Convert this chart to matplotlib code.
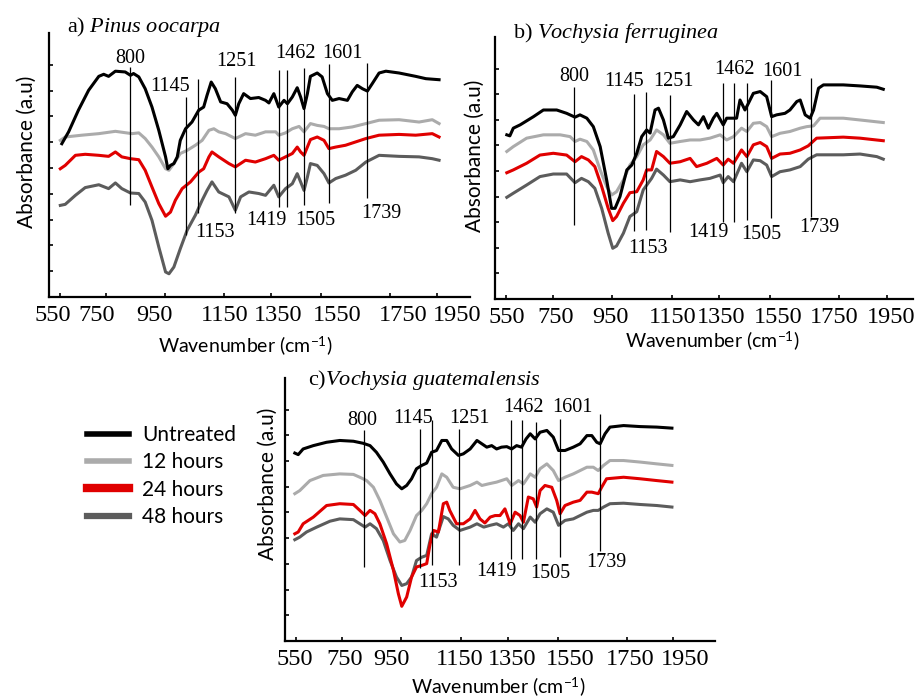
import numpy as np
import matplotlib
matplotlib.use("Agg")
import matplotlib.pyplot as plt
from matplotlib.lines import Line2D

# x is the position along the wavenumber axis: 0 at the "550" tick, 100 at the "1950" tick
# y is absorbance in arbitrary units (one unit per y tick)
tick_pos = [0, 12.3, 27.9, 43.7, 56.1, 69.4, 87.6, 100]
tick_labels = ["550", "750", "950", "1150", "1350", "1550", "1750", "1950"]
label_pos_a = [-1.9, 9.8, 25.2, 43.8, 57.9, 73.5, 91.1, 105.4]
label_pos_b = [0.3, 13.0, 27.4, 43.8, 56.5, 71.4, 86.3, 101.2]
label_pos_c = [-0.2, 13.1, 25.4, 43.5, 57.2, 72.6, 88.5, 103.1]

series = ["Untreated", "12 hours", "24 hours", "48 hours"]
bands = ["800", "1145", "1153", "1251", "1419", "1462", "1505", "1601", "1739"]

# a) Pinus oocarpa
a_untreated = [(0.6, 5.94), (2.4, 6.40), (5.0, 7.24), (7.7, 8.01), (10.4, 8.55), (11.7, 8.63), (13.0, 8.55),
               (14.8, 8.75), (17.4, 8.72), (18.8, 8.59), (19.6, 8.66), (21.0, 8.53), (22.7, 8.07), (24.5, 7.36),
               (26.3, 6.46), (28.1, 5.43), (28.7, 4.97), (29.4, 5.10), (30.3, 5.17), (31.2, 5.43), (32.0, 6.07),
               (33.4, 6.52), (35.1, 6.78), (36.9, 7.24), (38.2, 7.36), (39.1, 7.82), (40.2, 8.33), (41.3, 8.07),
               (42.7, 7.56), (44.4, 7.49), (45.8, 7.24), (46.6, 7.04), (47.5, 7.49), (48.8, 7.88), (50.6, 7.69),
               (52.8, 7.73), (54.6, 7.62), (55.5, 7.52), (56.8, 7.88), (58.1, 7.36), (59.5, 7.62), (60.4, 7.49),
               (61.7, 7.75), (63.0, 8.11), (63.9, 7.75), (64.8, 7.30), (65.7, 7.88), (66.5, 8.55), (68.3, 8.68),
               (69.6, 8.53), (71.0, 7.88), (72.3, 7.62), (74.1, 7.69), (76.3, 7.62), (77.6, 7.95), (78.9, 8.20),
               (80.3, 8.07), (81.6, 7.98), (82.9, 8.27), (84.7, 8.68), (86.5, 8.75), (90.0, 8.68), (94.4, 8.55),
               (97.1, 8.46), (100.6, 8.42)]
a_12h = [(0.2, 6.07), (1.5, 6.20), (5.9, 6.27), (10.4, 6.33), (14.8, 6.42), (19.2, 6.33), (21.0, 6.36),
         (22.7, 6.14), (24.5, 5.81), (26.3, 5.43), (28.1, 4.97), (29.0, 4.91), (30.3, 5.17), (32.0, 5.56),
         (33.8, 5.68), (36.0, 5.88), (37.8, 6.07), (39.6, 6.46), (40.9, 6.52), (42.2, 6.40), (44.0, 6.33),
         (46.6, 6.14), (49.3, 6.33), (51.9, 6.27), (54.6, 6.40), (57.3, 6.40), (58.1, 6.27), (59.9, 6.36),
         (61.7, 6.52), (63.5, 6.61), (64.8, 6.40), (66.5, 6.72), (68.3, 6.65), (70.1, 6.61), (71.4, 6.52),
         (74.1, 6.52), (77.6, 6.59), (81.2, 6.72), (84.7, 6.85), (90.0, 6.87), (95.3, 6.78), (98.8, 6.87),
         (100.6, 6.72)]
a_24h = [(0.2, 4.97), (1.5, 5.10), (4.2, 5.49), (6.8, 5.53), (10.4, 5.49), (13.0, 5.45), (14.8, 5.62),
         (16.5, 5.43), (18.8, 5.36), (21.0, 5.32), (22.7, 4.91), (24.5, 4.26), (26.3, 3.62), (28.1, 3.13),
         (29.4, 3.29), (30.7, 3.75), (32.5, 4.20), (34.7, 4.46), (36.9, 4.84), (38.2, 4.97), (39.6, 5.43),
         (40.4, 5.62), (42.2, 5.43), (44.9, 5.17), (46.6, 5.04), (49.3, 5.30), (51.9, 5.23), (54.6, 5.36),
         (56.8, 5.49), (58.1, 5.30), (59.9, 5.43), (61.7, 5.56), (63.0, 5.81), (63.9, 5.62), (64.8, 5.49),
         (66.5, 6.10), (68.3, 6.20), (70.1, 6.07), (71.4, 5.75), (73.2, 5.81), (75.8, 5.88), (78.5, 6.01),
         (81.2, 6.14), (84.7, 6.27), (90.0, 6.30), (94.4, 6.27), (98.8, 6.33), (100.6, 6.20)]
a_48h = [(0.2, 3.55), (1.5, 3.59), (4.2, 3.94), (6.8, 4.24), (10.4, 4.35), (13.0, 4.20), (14.8, 4.42),
         (16.5, 4.20), (18.8, 4.03), (21.0, 4.01), (22.7, 3.68), (24.5, 2.97), (26.3, 1.94), (28.1, 0.97),
         (29.0, 0.90), (30.3, 1.16), (32.0, 1.87), (33.8, 2.58), (36.0, 3.17), (37.8, 3.75), (39.1, 4.13),
         (40.4, 4.46), (42.2, 4.07), (44.9, 3.88), (46.6, 3.36), (48.0, 3.88), (50.2, 4.07), (52.8, 4.01),
         (54.6, 3.94), (56.8, 4.33), (58.1, 3.88), (59.9, 4.20), (61.7, 4.39), (63.0, 4.78), (63.9, 4.46),
         (64.8, 4.13), (65.7, 4.65), (66.5, 5.17), (68.3, 5.10), (70.1, 4.78), (71.4, 4.42), (73.2, 4.59),
         (75.8, 4.72), (78.5, 4.91), (81.2, 5.23), (84.7, 5.49), (90.0, 5.45), (95.3, 5.43), (98.8, 5.36),
         (100.6, 5.30)]
a_band_x = [18.8, 33.5, 36.7, 46.5, 58.1, 60.4, 64.8, 71.4, 81.6]
a_band_top = [8.93, 7.76, 8.44, 8.54, 8.80, 8.80, 8.86, 9.02, 9.07]
a_band_bottom = [3.57, 2.40, 3.26, 3.26, 3.50, 3.50, 3.57, 3.64, 3.84]
a_band_text = [(18.8, 9.26), (29.4, 8.15), (41.3, 2.51), (46.8, 9.12), (54.8, 2.98),
               (62.6, 9.45), (67.9, 2.98), (75.1, 9.45), (85.4, 3.24)]

# b) Vochysia ferruginea
b_untreated = [(0.3, 6.41), (1.1, 6.37), (2.0, 6.67), (3.8, 6.80), (7.3, 7.12), (9.9, 7.38), (13.4, 7.38),
               (16.0, 7.25), (18.2, 7.10), (19.5, 7.19), (21.3, 7.06), (23.0, 6.73), (24.8, 5.95), (26.5, 4.65),
               (27.8, 3.54), (28.7, 3.54), (30.0, 4.00), (31.8, 5.04), (33.1, 5.23), (34.4, 5.69), (35.7, 6.34),
               (37.0, 6.60), (37.9, 6.48), (39.2, 7.38), (40.1, 7.45), (41.4, 6.99), (42.7, 6.28), (44.0, 6.34),
               (45.8, 6.80), (47.5, 7.32), (49.3, 6.99), (50.6, 6.80), (51.9, 7.12), (53.2, 6.67), (54.5, 7.06),
               (55.4, 7.25), (57.1, 6.80), (58.0, 7.06), (59.3, 7.06), (60.6, 7.06), (61.5, 7.77), (62.8, 7.38),
               (63.7, 7.64), (65.0, 8.03), (66.8, 8.10), (68.5, 7.90), (69.8, 7.12), (71.1, 7.19), (73.3, 7.25),
               (74.6, 7.38), (76.4, 7.71), (77.3, 7.77), (78.6, 7.19), (79.9, 7.06), (80.8, 7.38), (82.1, 8.23),
               (83.4, 8.36), (88.6, 8.36), (93.0, 8.32), (97.4, 8.27), (99.1, 8.19)]
b_12h = [(0.3, 5.76), (2.0, 5.95), (5.5, 6.28), (9.9, 6.41), (14.3, 6.41), (16.9, 6.34), (18.2, 6.15),
         (19.5, 6.24), (21.3, 6.15), (23.0, 5.82), (24.8, 5.04), (26.5, 4.39), (27.8, 4.06), (29.1, 4.19),
         (30.9, 4.65), (32.6, 5.23), (34.4, 5.56), (36.1, 6.02), (37.9, 6.21), (39.6, 6.60), (41.4, 6.41),
         (43.1, 6.08), (45.8, 6.15), (48.4, 6.21), (51.0, 6.21), (53.6, 6.28), (56.3, 6.41), (58.0, 6.21),
         (59.8, 6.34), (61.9, 6.67), (63.3, 6.54), (65.0, 6.86), (66.8, 6.89), (68.5, 6.73), (69.8, 6.34),
         (72.0, 6.47), (74.6, 6.54), (77.3, 6.67), (79.0, 6.73), (80.8, 6.76), (82.5, 7.06), (88.6, 7.06),
         (93.0, 6.99), (99.1, 6.89)]
b_24h = [(0.3, 4.93), (2.0, 5.04), (5.5, 5.30), (9.0, 5.62), (12.5, 5.69), (16.0, 5.62), (18.2, 5.36),
         (19.9, 5.56), (21.7, 5.43), (23.4, 5.17), (25.2, 4.39), (26.9, 3.54), (28.1, 3.06), (29.1, 3.22),
         (30.9, 3.74), (32.6, 4.15), (34.4, 4.19), (36.1, 4.65), (37.0, 5.04), (38.3, 5.04), (39.6, 5.76),
         (41.4, 5.56), (43.1, 5.30), (45.8, 5.36), (48.4, 5.49), (50.1, 5.17), (52.8, 5.30), (55.4, 5.49),
         (57.1, 5.23), (58.4, 5.46), (59.8, 5.30), (61.9, 5.82), (63.3, 5.56), (65.0, 6.02), (66.8, 6.11),
         (68.5, 5.95), (69.8, 5.49), (72.0, 5.66), (74.6, 5.69), (77.3, 5.82), (79.4, 5.98), (81.6, 6.28),
         (88.6, 6.32), (93.0, 6.28), (99.1, 6.18)]
b_48h = [(0.3, 3.97), (2.0, 4.13), (5.5, 4.45), (9.0, 4.78), (12.5, 4.88), (16.0, 4.88), (18.2, 4.54),
         (19.9, 4.71), (21.7, 4.58), (23.4, 4.32), (25.2, 3.54), (26.9, 2.57), (28.1, 1.98), (29.1, 2.07),
         (30.9, 2.57), (32.6, 3.22), (34.4, 3.41), (36.1, 4.26), (38.3, 4.71), (39.6, 5.07), (41.4, 4.84),
         (43.1, 4.58), (45.8, 4.65), (48.4, 4.58), (51.0, 4.65), (53.6, 4.71), (56.3, 4.84), (57.1, 4.54),
         (58.4, 4.78), (59.8, 4.58), (61.9, 5.30), (63.3, 4.97), (65.0, 5.43), (66.8, 5.40), (68.5, 5.23),
         (69.8, 4.78), (72.0, 4.97), (74.6, 5.04), (77.3, 5.17), (79.4, 5.46), (81.6, 5.63), (88.6, 5.63),
         (93.0, 5.66), (97.4, 5.56), (99.1, 5.46)]
b_band_x = [18.0, 33.8, 36.7, 43.1, 57.0, 59.8, 63.4, 69.6, 80.1]
b_band_top = [8.27, 8.01, 8.10, 7.97, 8.42, 8.42, 8.42, 8.55, 8.62]
b_band_bottom = [2.89, 2.67, 2.70, 2.63, 3.02, 3.02, 3.09, 3.15, 3.22]
b_band_text = [(18.0, 8.68), (31.1, 8.49), (37.3, 1.98), (44.0, 8.49), (53.2, 2.59),
               (60.0, 8.95), (67.0, 2.50), (72.7, 8.88), (82.3, 2.79)]

# c) Vochysia guatemalensis
c_untreated = [(-0.2, 7.31), (0.7, 7.25), (2.0, 7.47), (4.7, 7.60), (8.2, 7.73), (11.7, 7.80), (15.3, 7.77),
               (17.9, 7.69), (19.7, 7.60), (21.4, 7.34), (23.2, 6.96), (25.0, 6.50), (26.7, 6.11), (28.1, 5.92),
               (29.4, 6.05), (30.7, 6.31), (32.0, 6.70), (33.4, 6.83), (34.7, 6.92), (36.0, 7.34), (37.3, 7.41),
               (38.7, 7.80), (40.0, 7.80), (41.3, 7.47), (43.1, 7.22), (44.4, 7.28), (46.2, 7.47), (48.0, 7.80),
               (49.3, 7.67), (50.6, 7.54), (51.9, 7.60), (53.2, 7.47), (54.5, 7.54), (55.9, 7.56), (57.2, 7.47),
               (58.5, 7.60), (59.8, 7.54), (61.0, 7.86), (62.1, 8.06), (63.4, 7.86), (64.7, 8.12), (66.5, 8.19),
               (68.2, 7.93), (69.6, 7.41), (71.3, 7.41), (73.5, 7.54), (75.3, 7.67), (77.1, 7.99), (78.4, 7.99),
               (79.7, 7.73), (80.6, 7.67), (81.9, 8.06), (83.2, 8.32), (86.8, 8.38), (91.2, 8.34), (95.6, 8.32),
               (99.6, 8.28)]
c_12h = [(-0.2, 5.73), (1.1, 5.85), (3.8, 6.24), (7.3, 6.44), (11.7, 6.50), (15.3, 6.48), (17.0, 6.37),
         (18.8, 6.24), (20.6, 5.98), (22.3, 5.47), (24.1, 4.82), (25.9, 4.17), (27.6, 3.85), (28.9, 3.91),
         (30.3, 4.30), (32.0, 4.88), (33.4, 5.08), (34.7, 5.34), (36.0, 5.73), (37.3, 5.98), (38.7, 6.50),
         (40.0, 6.37), (41.7, 5.98), (43.5, 5.92), (46.2, 6.05), (48.0, 6.18), (49.3, 6.05), (51.0, 6.11),
         (53.2, 6.18), (55.9, 6.31), (57.2, 6.05), (59.0, 6.24), (60.3, 6.11), (62.1, 6.50), (63.4, 6.37),
         (64.7, 6.70), (66.5, 6.89), (68.2, 6.63), (69.6, 6.24), (71.3, 6.37), (73.5, 6.50), (75.3, 6.63),
         (77.1, 6.76), (78.8, 6.76), (80.1, 6.63), (81.5, 6.83), (83.2, 7.02), (86.8, 7.02), (91.2, 6.96),
         (95.6, 6.89), (99.6, 6.83)]
c_24h = [(-0.2, 4.17), (0.7, 4.24), (2.0, 4.56), (4.7, 4.82), (8.2, 5.27), (11.7, 5.34), (15.3, 5.31),
         (17.0, 5.08), (18.4, 4.88), (19.7, 5.08), (21.0, 4.95), (22.3, 4.56), (24.1, 3.78), (25.9, 2.75),
         (27.2, 1.84), (28.1, 1.35), (29.4, 1.71), (30.7, 2.49), (32.0, 2.88), (33.4, 2.94), (34.7, 3.01),
         (35.6, 3.78), (36.5, 4.30), (37.8, 4.24), (39.1, 5.34), (40.0, 5.40), (40.8, 5.08), (42.6, 4.56),
         (44.4, 4.56), (46.2, 4.75), (47.5, 5.08), (48.8, 4.75), (50.1, 4.59), (51.5, 4.82), (52.8, 4.88),
         (54.1, 4.88), (55.4, 5.14), (56.8, 4.56), (58.1, 5.01), (59.4, 4.88), (60.3, 4.62), (61.6, 5.60),
         (62.9, 5.53), (63.8, 5.21), (64.7, 5.85), (66.0, 6.05), (67.8, 5.98), (69.1, 5.47), (70.0, 4.95),
         (71.3, 5.27), (73.5, 5.40), (75.3, 5.47), (77.1, 5.79), (78.4, 5.79), (80.1, 5.73), (81.0, 5.98),
         (82.3, 6.31), (86.8, 6.37), (91.2, 6.31), (95.6, 6.24), (99.6, 6.18)]
c_48h = [(-0.2, 3.94), (1.1, 4.04), (2.9, 4.24), (5.6, 4.43), (9.1, 4.66), (11.7, 4.75), (15.3, 4.72),
         (17.0, 4.56), (18.4, 4.43), (19.7, 4.56), (21.4, 4.37), (23.2, 3.91), (25.0, 3.13), (26.7, 2.49),
         (28.1, 2.16), (29.4, 2.23), (30.7, 2.49), (32.0, 3.13), (33.4, 3.26), (34.7, 3.33), (36.0, 4.17),
         (37.3, 4.04), (39.1, 4.84), (40.4, 4.75), (41.7, 4.50), (43.5, 4.30), (46.2, 4.43), (48.0, 4.56),
         (49.8, 4.43), (51.5, 4.50), (53.2, 4.56), (55.0, 4.43), (56.3, 4.56), (57.6, 4.30), (59.0, 4.56),
         (60.3, 4.37), (62.1, 4.82), (63.4, 4.62), (64.7, 4.95), (66.5, 5.14), (68.2, 5.01), (69.6, 4.50),
         (71.3, 4.69), (73.5, 4.75), (75.3, 4.88), (77.1, 5.01), (78.8, 5.08), (80.1, 5.08), (81.5, 5.21),
         (83.2, 5.34), (86.8, 5.36), (91.2, 5.31), (95.6, 5.27), (99.6, 5.21)]
c_band_x = [18.1, 32.9, 36.2, 43.2, 56.9, 60.0, 63.5, 70.0, 80.6]
c_band_top = [8.19, 8.25, 8.60, 8.25, 8.58, 8.58, 8.51, 8.64, 8.83]
c_band_bottom = [2.88, 2.85, 2.94, 2.94, 3.20, 3.20, 3.20, 3.26, 3.50]
c_band_text = [(17.7, 8.58), (31.2, 8.64), (37.8, 2.29), (46.0, 8.64), (53.2, 2.72),
               (60.3, 9.07), (67.3, 2.64), (73.3, 9.07), (82.2, 3.07)]

colors = ["#000000", "#ababab", "#e00000", "#5c5c5c"]
SERIF = "Liberation Serif"
SANS = "Lato"
W, H = 915, 698

plt.rcParams["mathtext.fontset"] = "custom"
plt.rcParams["mathtext.rm"] = SANS
plt.rcParams["mathtext.it"] = SERIF + ":italic"

fig = plt.figure(figsize=(W / 100, H / 100), dpi=100)


def add_panel(box, xmax, curves, band_x, band_top, band_bottom, band_text, label_pos):
    l, t, r, b = box
    ax = fig.add_axes([l / W, 1 - b / H, (r - l) / W, (b - t) / H])
    # draw 48h and 12h first, untreated on top
    for i in [3, 1, 2, 0]:
        xy = np.array(curves[i])
        ax.plot(xy[:, 0], xy[:, 1], color=colors[i], lw=2.2, solid_joinstyle="round")
    ax.vlines(band_x, band_bottom, band_top, color="black", lw=0.9)
    for name, (x, y) in zip(bands, band_text):
        ax.text(x, y, name, ha="center", va="center", fontsize=14.5, family=SERIF)
    ax.set_xlim(-2.8, xmax)
    ax.set_ylim(0, 10.23)
    ax.set_xticks(tick_pos)
    ax.set_xticklabels([])
    ax.set_xticks(label_pos, tick_labels, minor=True)
    ax.set_yticks(range(1, 10))
    ax.set_yticklabels([])
    ax.tick_params(which="major", direction="in", length=3, width=1.2, color="black")
    ax.tick_params(axis="x", which="minor", length=0, pad=6, labelsize=17.5)
    for lab in ax.get_xticklabels(minor=True):
        lab.set_family(SERIF)
    for side in ["top", "right"]:
        ax.spines[side].set_visible(False)
    for side in ["left", "bottom"]:
        ax.spines[side].set_linewidth(1.6)
    return ax


add_panel((49, 33, 470, 297), 108.8, [a_untreated, a_12h, a_24h, a_48h],
          a_band_x, a_band_top, a_band_bottom, a_band_text, label_pos_a)
add_panel((495, 37, 913, 299), 106.9, [b_untreated, b_12h, b_24h, b_48h],
          b_band_x, b_band_top, b_band_bottom, b_band_text, label_pos_b)
add_panel((285, 378, 715, 641), 111.0, [c_untreated, c_12h, c_24h, c_48h],
          c_band_x, c_band_top, c_band_bottom, c_band_text, label_pos_c)

# panel titles: letter upright, species in italics
titles = [((67, 27), r"a) $\mathit{Pinus\ oocarpa}$"),
          ((513, 33), r"b) $\mathit{Vochysia\ ferruginea}$"),
          ((308, 380), r"c)$\mathit{Vochysia\ guatemalensis}$")]
for (x, y), title in titles:
    fig.text(x / W, 1 - y / H, title, ha="left", va="center", fontsize=16, family=SERIF)

# axis titles
for x, y in [(27, 152), (475, 156), (268, 484)]:
    fig.text(x / W, 1 - y / H, "Absorbance (a.u)", rotation=90, ha="center", va="center",
             fontsize=15, family=SANS)
for x, y in [(245, 346), (712, 341), (498, 687)]:
    fig.text(x / W, 1 - y / H, "Wavenumber (cm$^{-1}$)", ha="center", va="center",
             fontsize=14, family=SANS)

handles = [Line2D([], [], color=colors[0], lw=4),
           Line2D([], [], color=colors[1], lw=4),
           Line2D([], [], color=colors[2], lw=6),
           Line2D([], [], color=colors[3], lw=4.5)]
fig.legend(handles, series, loc="upper left", bbox_to_anchor=(87 / W, 1 - 425 / H),
           frameon=False, handlelength=2.0, handletextpad=0.63, labelspacing=0.35,
           borderpad=0, borderaxespad=0, prop={"family": SANS, "size": 15})

fig.savefig("out.png", dpi=100)
